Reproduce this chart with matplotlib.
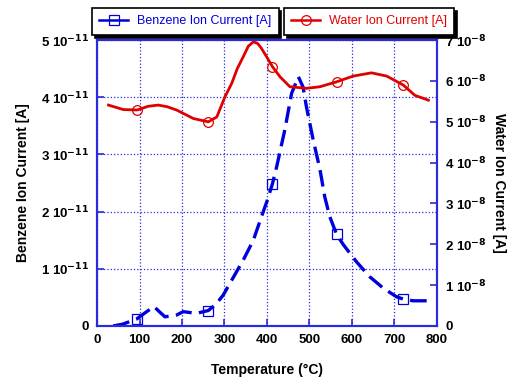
import numpy as np
import matplotlib
matplotlib.use("Agg")
import matplotlib.pyplot as plt
from matplotlib.lines import Line2D

plt.rcParams['font.family'] = ['Liberation Sans', 'DejaVu Sans']
plt.rcParams['mathtext.default'] = 'bf'

# benzene ion current (left axis, units of 1e-11 A)
benz_t = [38, 60, 93, 115, 134, 148, 160, 187, 203, 234, 262, 280, 297, 317, 344,
          368, 387, 400, 413, 423, 442, 458, 474, 485, 493, 509, 525, 536, 548,
          564, 580, 611, 642, 674, 705, 721, 744, 776]
benz_i = [0.0, 0.03, 0.12, 0.24, 0.34, 0.24, 0.16, 0.19, 0.25, 0.22, 0.27, 0.38,
          0.54, 0.80, 1.15, 1.50, 1.91, 2.18, 2.49, 2.79, 3.43, 4.07, 4.36, 4.18,
          3.83, 3.25, 2.73, 2.26, 1.91, 1.60, 1.42, 1.12, 0.86, 0.66, 0.51, 0.47,
          0.44, 0.44]
benz_marks = [2, 10, 18, 29, 35]

# water ion current (right axis, units of 1e-8 A)
water_t = [27, 62, 95, 120, 144, 165, 187, 227, 262, 282, 301, 317, 330, 344, 356,
           368, 378, 387, 400, 413, 431, 454, 493, 525, 564, 603, 646, 682, 721,
           748, 780]
water_i = [5.41, 5.30, 5.29, 5.38, 5.41, 5.37, 5.29, 5.08, 5.00, 5.12, 5.61, 5.94,
           6.30, 6.59, 6.85, 6.96, 6.92, 6.80, 6.58, 6.35, 6.10, 5.86, 5.82, 5.86,
           5.98, 6.12, 6.20, 6.12, 5.90, 5.65, 5.53]
water_marks = [2, 8, 19, 24, 28]

left_ticks = [0, 1, 2, 3, 4, 5]
left_labels = ['0'] + [r'%d 10$^{-11}$' % v for v in left_ticks[1:]]
right_ticks = [0, 1, 2, 3, 4, 5, 6, 7]
right_labels = ['0'] + [r'%d 10$^{-8}$' % v for v in right_ticks[1:]]

blue = '#0000dd'
red = '#e00000'
frame = '#2a2ae0'

fig = plt.figure(figsize=(5.08, 3.79), dpi=100)
ax = fig.add_axes([0.191, 0.140, 0.669, 0.754])
ax2 = ax.twinx()

ax.plot(benz_t, benz_i, color=blue, lw=2.4, dashes=(5, 2.2),
        marker='s', markevery=benz_marks, ms=6.5, mfc='none', mew=0.9)
ax2.plot(water_t, water_i, color=red, lw=2.0,
         marker='o', markevery=water_marks, ms=7, mfc='none', mew=0.9)

ax.set_xlim(0, 800)
ax.set_ylim(0, 5)
ax2.set_ylim(0, 7)
ax.set_xticks(range(0, 801, 100))
ax.set_yticks(left_ticks)
ax.set_yticklabels(left_labels)
ax2.set_yticks(right_ticks)
ax2.set_yticklabels(right_labels)

ax.grid(True, color=frame, ls=':', lw=0.9)
for a in (ax, ax2):
    for s in a.spines.values():
        s.set_color(frame)
        s.set_linewidth(1.5)
    a.tick_params(direction='in', color=frame, length=5, width=1.2,
                  labelsize=9.5, pad=6)
    for t in a.get_xticklabels() + a.get_yticklabels():
        t.set_fontweight('bold')

ax.set_xlabel('Temperature (°C)', fontsize=10, fontweight='bold', labelpad=12)
ax.set_ylabel('Benzene Ion Current [A]', fontsize=10, fontweight='bold', labelpad=8)
ax2.set_ylabel('Water Ion Current [A]', fontsize=10, fontweight='bold',
               rotation=270, labelpad=14)

# legend handles drawn solid, as in the original
h_benz = Line2D([], [], color=blue, lw=1.8, marker='s', ms=6.5, mfc='none',
                mew=0.9, label='Benzene Ion Current [A]')
h_water = Line2D([], [], color=red, lw=1.8, marker='o', ms=7, mfc='none',
                 mew=0.9, label='Water Ion Current [A]')

shadow = {'color': 'black', 'alpha': 1.0}
for h, anchor in ((h_benz, (0.181, 0.979)), (h_water, (0.559, 0.979))):
    leg = fig.legend(handles=[h], loc='upper left', bbox_to_anchor=anchor,
                     fontsize=9, frameon=True, fancybox=False, shadow=shadow,
                     edgecolor='black', handlelength=2.3, borderpad=0.6,
                     borderaxespad=0, labelcolor='linecolor', handletextpad=0.7)
    leg.get_frame().set_linewidth(1.2)
    leg.get_frame().set_alpha(1)

fig.savefig('out.png', dpi=100)
